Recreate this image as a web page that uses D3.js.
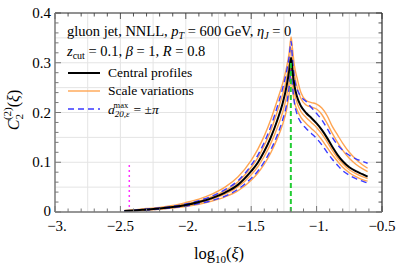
<!DOCTYPE html>
<html>
<head>
<meta charset="utf-8">
<script src="https://cdn.jsdelivr.net/npm/d3@7"></script>
<style>
  body { margin: 0; background: #fff; }
</style>
</head>
<body>
<script>
// log10(xi) grid shared by all curves
const xi = [-2.47, -2.4, -2.3, -2.2, -2.1, -2.0, -1.9, -1.8, -1.7, -1.6, -1.5, -1.45, -1.4, -1.35, -1.3,
            -1.26, -1.23, -1.21, -1.195, -1.185, -1.17, -1.15, -1.12, -1.08, -1.04, -1.0, -0.96, -0.92,
            -0.88, -0.84, -0.8, -0.75, -0.7, -0.65, -0.61];

const central = [0.002, 0.003, 0.005, 0.007, 0.010, 0.014, 0.020, 0.028, 0.039, 0.055, 0.082, 0.099, 0.122, 0.150, 0.185,
                 0.218, 0.252, 0.283, 0.310, 0.285, 0.255, 0.232, 0.213, 0.199, 0.189, 0.178, 0.165, 0.149,
                 0.131, 0.115, 0.102, 0.090, 0.082, 0.076, 0.071];

// scale variations (orange)
const scaleUp1 = [0.003, 0.004, 0.007, 0.009, 0.013, 0.019, 0.026, 0.036, 0.050, 0.071, 0.104, 0.126, 0.153, 0.186, 0.225,
                  0.258, 0.290, 0.320, 0.352, 0.330, 0.295, 0.270, 0.240, 0.224, 0.220, 0.217, 0.209, 0.194,
                  0.172, 0.155, 0.138, 0.120, 0.106, 0.095, 0.088];
const scaleUp2 = [0.002, 0.0035, 0.0055, 0.008, 0.011, 0.016, 0.022, 0.031, 0.043, 0.061, 0.090, 0.109, 0.134, 0.164, 0.202,
                  0.236, 0.268, 0.300, 0.330, 0.310, 0.278, 0.252, 0.228, 0.215, 0.211, 0.207, 0.196, 0.178,
                  0.158, 0.140, 0.124, 0.108, 0.096, 0.087, 0.081];
const scaleDn1 = [0.0018, 0.0028, 0.0046, 0.0065, 0.0092, 0.013, 0.0185, 0.026, 0.036, 0.051, 0.075, 0.091, 0.112, 0.138, 0.170,
                  0.200, 0.232, 0.262, 0.290, 0.268, 0.240, 0.220, 0.202, 0.190, 0.180, 0.170, 0.157, 0.141,
                  0.124, 0.109, 0.097, 0.085, 0.077, 0.071, 0.067];
const scaleDn2 = [0.0015, 0.0023, 0.0038, 0.0054, 0.0077, 0.011, 0.0155, 0.022, 0.0305, 0.043, 0.064, 0.078, 0.096, 0.119, 0.148,
                  0.176, 0.205, 0.238, 0.270, 0.248, 0.222, 0.206, 0.190, 0.178, 0.168, 0.158, 0.145, 0.130,
                  0.115, 0.102, 0.090, 0.079, 0.071, 0.065, 0.062];

// a20 = +/- pi (blue dashed)
const aPlus = [0.0025, 0.0035, 0.006, 0.008, 0.0115, 0.016, 0.023, 0.032, 0.045, 0.063, 0.094, 0.114, 0.140, 0.172, 0.212,
               0.248, 0.282, 0.312, 0.343, 0.310, 0.270, 0.248, 0.232, 0.222, 0.210, 0.198, 0.185, 0.168,
               0.150, 0.135, 0.124, 0.114, 0.107, 0.102, 0.098];
const aMinus = [0.0015, 0.0025, 0.004, 0.006, 0.0085, 0.012, 0.017, 0.023, 0.032, 0.046, 0.068, 0.082, 0.101, 0.125, 0.155,
                0.185, 0.215, 0.250, 0.285, 0.255, 0.220, 0.197, 0.180, 0.168, 0.158, 0.148, 0.135, 0.120,
                0.106, 0.094, 0.083, 0.074, 0.067, 0.062, 0.058];

const xMajor = [-3, -2.5, -2, -1.5, -1, -0.5];
const xMajorLabels = ["\u22123.", "\u22122.5", "\u22122.", "\u22121.5", "\u22121.", "\u22120.5"];
const yMajor = [0, 0.1, 0.2, 0.3, 0.4];
const yMajorLabels = ["0", "0.1", "0.2", "0.3", "0.4"];

const vMagenta = -2.432;
const vGreen = -1.197;

const W = 399, H = 266;
const L = 55, R = 382, T = 13, B = 212;
const FONT = "'Liberation Serif', 'DejaVu Serif', 'Times New Roman', serif";

const x = d3.scaleLinear().domain([-3, -0.5]).range([L, R]);
const y = d3.scaleLinear().domain([0, 0.4]).range([B, T]);

const svg = d3.select("body").append("svg")
  .attr("width", W).attr("height", H)
  .attr("font-family", FONT)
  .style("font-family", FONT);

// grid
const gx = d3.range(-3, -0.49, 0.25);
const gy = d3.range(0, 0.401, 0.05);
svg.append("g").selectAll("line").data(gx).join("line")
  .attr("x1", d => x(d)).attr("x2", d => x(d)).attr("y1", T).attr("y2", B)
  .attr("stroke", "#e4e4e4").attr("stroke-width", 1);
svg.append("g").selectAll("line").data(gy).join("line")
  .attr("y1", d => y(d)).attr("y2", d => y(d)).attr("x1", L).attr("x2", R)
  .attr("stroke", "#e4e4e4").attr("stroke-width", 1);

const plot = svg.append("g");
plot.append("clipPath").attr("id", "clip").append("rect")
  .attr("x", L).attr("y", T).attr("width", R - L).attr("height", B - T);
const curves = plot.append("g").attr("clip-path", "url(#clip)");

const line = d3.line()
  .x((d, i) => x(xi[i]))
  .y(d => y(d))
  .curve(d3.curveMonotoneX);

// vertical markers
curves.append("line")
  .attr("x1", x(vMagenta)).attr("x2", x(vMagenta)).attr("y1", y(0)).attr("y2", y(0.1))
  .attr("stroke", "#ff33ff").attr("stroke-width", 1.5).attr("stroke-dasharray", "2,3");

[scaleUp1, scaleUp2, scaleDn1, scaleDn2].forEach(s => {
  curves.append("path").attr("d", line(s))
    .attr("fill", "none").attr("stroke", "#ffa552").attr("stroke-width", 1.4);
});
[aPlus, aMinus].forEach(s => {
  curves.append("path").attr("d", line(s))
    .attr("fill", "none").attr("stroke", "#3a3aff").attr("stroke-width", 1.4)
    .attr("stroke-dasharray", "6,4");
});
curves.append("path").attr("d", line(central))
  .attr("fill", "none").attr("stroke", "#000").attr("stroke-width", 2);

curves.append("line")
  .attr("x1", x(vGreen)).attr("x2", x(vGreen)).attr("y1", y(0)).attr("y2", y(0.3))
  .attr("stroke", "#22cc33").attr("stroke-width", 2).attr("stroke-dasharray", "5,3");

// frame + ticks (inside, on all four sides)
const frame = svg.append("g");
const xMinor = d3.range(-3, -0.49, 0.1);
const yMinor = d3.range(0, 0.401, 0.02);
const isMajorX = v => xMajor.some(m => Math.abs(m - v) < 1e-6);
const isMajorY = v => yMajor.some(m => Math.abs(m - v) < 1e-6);

xMinor.forEach(v => {
  const len = isMajorX(v) ? 6 : 3.5;
  frame.append("line").attr("x1", x(v)).attr("x2", x(v)).attr("y1", B).attr("y2", B - len)
    .attr("stroke", "#777").attr("stroke-width", 1);
  frame.append("line").attr("x1", x(v)).attr("x2", x(v)).attr("y1", T).attr("y2", T + len)
    .attr("stroke", "#555").attr("stroke-width", 1);
});
yMinor.forEach(v => {
  const len = isMajorY(v) ? 6 : 3.5;
  frame.append("line").attr("y1", y(v)).attr("y2", y(v)).attr("x1", L).attr("x2", L + len)
    .attr("stroke", "#777").attr("stroke-width", 1);
  frame.append("line").attr("y1", y(v)).attr("y2", y(v)).attr("x1", R).attr("x2", R - len)
    .attr("stroke", "#555").attr("stroke-width", 1);
});
frame.append("line").attr("x1", L).attr("x2", R).attr("y1", T).attr("y2", T).attr("stroke", "#333").attr("stroke-width", 1.2);
frame.append("line").attr("x1", R).attr("x2", R).attr("y1", T).attr("y2", B).attr("stroke", "#333").attr("stroke-width", 1.2);
frame.append("line").attr("x1", L).attr("x2", L).attr("y1", T).attr("y2", B).attr("stroke", "#777").attr("stroke-width", 1.4);
frame.append("line").attr("x1", L).attr("x2", R).attr("y1", B).attr("y2", B).attr("stroke", "#777").attr("stroke-width", 1.4);

// tick labels
svg.append("g").selectAll("text").data(xMajor).join("text")
  .attr("x", (d, i) => x(d) + (xMajorLabels[i].endsWith(".") ? 2 : 0))
  .attr("y", B + 19)
  .attr("text-anchor", "middle").attr("font-size", 15)
  .text((d, i) => xMajorLabels[i]);
svg.append("g").selectAll("text").data(yMajor).join("text")
  .attr("x", L - 4).attr("y", (d, i) => y(d) + (i === 0 ? 4 : 5))
  .attr("text-anchor", "end").attr("font-size", 15)
  .text((d, i) => yMajorLabels[i]);

// axis titles
const xl = svg.append("text").attr("x", 219).attr("y", 259).attr("text-anchor", "middle").attr("font-size", 16.5);
xl.append("tspan").text("log");
xl.append("tspan").attr("font-size", 11).attr("dy", 4).text("10");
xl.append("tspan").attr("dy", -4).text("(");
xl.append("tspan").attr("font-style", "italic").text("\u03be");
xl.append("tspan").text(")");

const yl = svg.append("text").attr("transform", "translate(19,110) rotate(-90)")
  .attr("text-anchor", "middle").attr("font-size", 16);
yl.append("tspan").attr("font-style", "italic").text("C");
yl.append("tspan").attr("font-size", 11).attr("dy", 4).attr("dx", 0).text("2");
yl.append("tspan").attr("font-size", 11).attr("dy", -12).attr("dx", -6).text("(2)");
yl.append("tspan").attr("dy", 8).text("(");
yl.append("tspan").attr("font-style", "italic").text("\u03be");
yl.append("tspan").text(")");

// annotation text
const t1 = svg.append("text").attr("x", 67).attr("y", 36).attr("font-size", 14.5);
t1.append("tspan").text("gluon jet, NNLL, ");
t1.append("tspan").attr("font-style", "italic").text("p");
t1.append("tspan").attr("font-style", "italic").attr("font-size", 10).attr("dy", 3).text("T");
t1.append("tspan").attr("dy", -3).text(" = 600\u2009GeV, ");
t1.append("tspan").attr("font-style", "italic").text("\u03b7");
t1.append("tspan").attr("font-style", "italic").attr("font-size", 10).attr("dy", 3).text("J");
t1.append("tspan").attr("dy", -3).text(" = 0");

const t2 = svg.append("text").attr("x", 67).attr("y", 56).attr("font-size", 14.5);
t2.append("tspan").attr("font-style", "italic").text("z");
t2.append("tspan").attr("font-size", 10).attr("dy", 3).text("cut");
t2.append("tspan").attr("dy", -3).text(" = 0.1, ");
t2.append("tspan").attr("font-style", "italic").text("\u03b2");
t2.append("tspan").text(" = 1, ");
t2.append("tspan").attr("font-style", "italic").text("R");
t2.append("tspan").text(" = 0.8");

// legend
const legendItems = [
  { y: 73, stroke: "#000", width: 2, dash: null },
  { y: 91, stroke: "#ffa552", width: 1.4, dash: null },
  { y: 109, stroke: "#3a3aff", width: 1.4, dash: "6,4" }
];
legendItems.forEach(it => {
  svg.append("line").attr("x1", 68).attr("x2", 100).attr("y1", it.y).attr("y2", it.y)
    .attr("stroke", it.stroke).attr("stroke-width", it.width).attr("stroke-dasharray", it.dash);
});
svg.append("text").attr("x", 108).attr("y", 77).attr("font-size", 13.5).text("Central profiles");
svg.append("text").attr("x", 108).attr("y", 95).attr("font-size", 13.5).text("Scale variations");
const t3 = svg.append("text").attr("x", 108).attr("y", 114).attr("font-size", 13.5);
t3.append("tspan").attr("font-style", "italic").text("a");
t3.append("tspan").attr("font-size", 9).attr("dy", 3).attr("font-style", "italic").text("20,\u03b5");
t3.append("tspan").attr("font-size", 8.5).attr("dy", -9.5).attr("dx", -16).text("max");
t3.append("tspan").attr("dy", 6.5).attr("dx", 2).text(" = \u00b1");
t3.append("tspan").attr("font-style", "italic").text("\u03c0");
</script>
</body>
</html>
